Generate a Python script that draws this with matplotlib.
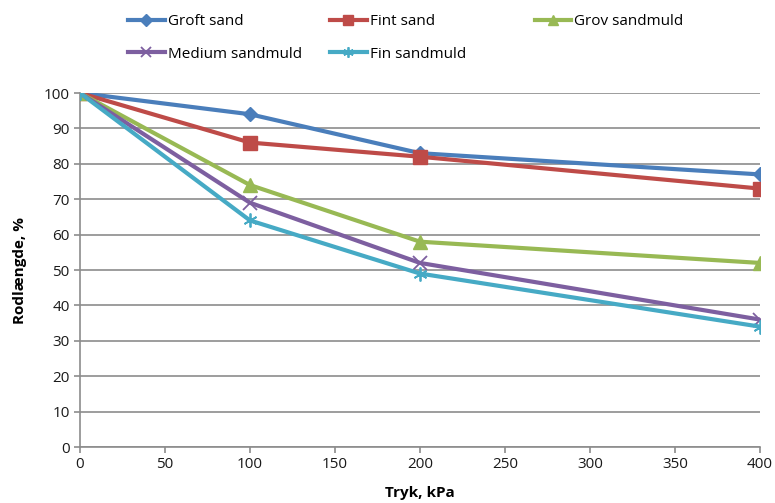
import matplotlib
matplotlib.use("Agg")
import matplotlib.pyplot as plt

plt.rcParams['font.family'] = ['Open Sans', 'DejaVu Sans']

pressure = [0, 100, 200, 400]
groft_sand = [100, 94, 83, 77]
fint_sand = [100, 86, 82, 73]
grov_sandmuld = [100, 74, 58, 52]
medium_sandmuld = [100, 69, 52, 36]
fin_sandmuld = [100, 64, 49, 34]

x_ticks = [0, 50, 100, 150, 200, 250, 300, 350, 400]
y_ticks = [0, 10, 20, 30, 40, 50, 60, 70, 80, 90, 100]

fig = plt.figure(figsize=(7.75, 5.03), dpi=100)
ax = fig.add_axes([0.1032, 0.1113, 0.8774, 0.7038])

lw = 3.0
h1, = ax.plot(pressure, groft_sand, color='#4A7EBB', lw=lw, marker='D', ms=7.5, label='Groft sand', zorder=3)
h2, = ax.plot(pressure, fint_sand, color='#BE4B48', lw=lw, marker='s', ms=9.5, label='Fint sand', zorder=3)
h3, = ax.plot(pressure, grov_sandmuld, color='#98B954', lw=lw, marker='^', ms=10, label='Grov sandmuld', zorder=3)
h4, = ax.plot(pressure, medium_sandmuld, color='#7D5FA0', lw=lw, marker='x', ms=10, mew=1.3, label='Medium sandmuld', zorder=3)
h5, = ax.plot(pressure, fin_sandmuld, color='#46AAC5', lw=lw, marker=(6, 2, 0), ms=10, mew=1.3, label='Fin sandmuld', zorder=3)

ax.set_xlim(0, 400)
ax.set_ylim(0, 100)
ax.set_xticks(x_ticks)
ax.set_yticks(y_ticks)
ax.yaxis.grid(True, color='#8c8c8c', lw=1.2)
ax.set_axisbelow(True)
for s in ['top', 'right']:
    ax.spines[s].set_visible(False)
for s in ['left', 'bottom']:
    ax.spines[s].set_color('#8c8c8c')
    ax.spines[s].set_linewidth(1.2)
ax.tick_params(axis='both', colors='#8c8c8c', length=4, width=1.2, labelsize=11, labelcolor='#1a1a1a')

ax.set_xlabel('Tryk, kPa', fontsize=11, fontweight='bold', labelpad=10)
ax.set_ylabel('Rodlængde, %', fontsize=11, fontweight='bold', labelpad=12)

# legend laid out as three columns at fixed positions
columns = [([h1, h4], ['Groft sand', 'Medium sandmuld'], 0.165),
           ([h2, h5], ['Fint sand', 'Fin sandmuld'], 0.426),
           ([h3], ['Grov sandmuld'], 0.690)]
for handles, labels, x0 in columns:
    fig.legend(handles, labels, loc='upper left', bbox_to_anchor=(x0, 0.972),
               frameon=False, fontsize=11, handlelength=2.4, handletextpad=0.2,
               labelspacing=1.15, borderpad=0, borderaxespad=0, markerscale=0.75)

fig.savefig('out.png', dpi=100)
